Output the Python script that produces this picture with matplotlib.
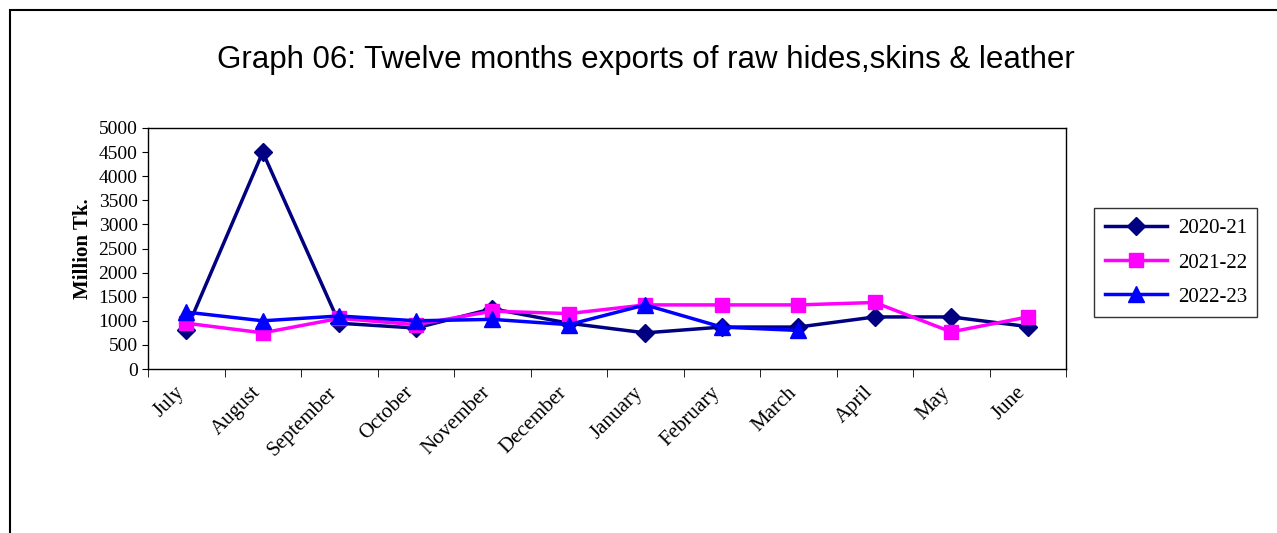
import numpy as np
import matplotlib
matplotlib.use("Agg")
from matplotlib import pyplot as plt
from matplotlib.patches import Rectangle

months = ["July", "August", "September", "October", "November", "December",
          "January", "February", "March", "April", "May", "June"]
fy2021 = [800, 4500, 950, 850, 1250, 950, 750, 870, 870, 1080, 1080, 880]
fy2122 = [950, 750, 1050, 920, 1200, 1150, 1330, 1330, 1330, 1380, 770, 1080]
fy2223 = [1180, 1000, 1100, 1000, 1030, 920, 1330, 870, 800]

plt.rcParams['font.family'] = ['Liberation Serif', 'DejaVu Serif']

fig = plt.figure(figsize=(12.77, 5.33), dpi=100)
fig.patches.append(Rectangle((10 / 1277, -0.01), 1.1, (523 + 0.01 * 533) / 533,
                             transform=fig.transFigure, fill=False,
                             edgecolor="black", linewidth=1.5))
fig.text(646 / 1277, 1 - 60 / 533,
         "Graph 06: Twelve months exports of raw hides,skins & leather",
         ha="center", va="center", fontsize=22.5, family="Liberation Sans")

ax = fig.add_axes([148 / 1277, 1 - 369 / 533, 918 / 1277, 241 / 533])
x = np.arange(len(months))
ax.plot(x, fy2021, color="#000080", marker="D", markersize=9, linewidth=2.5, label="2020-21")
ax.plot(x, fy2122, color="#FF00FF", marker="s", markersize=10, linewidth=2.5, label="2021-22")
ax.plot(x[:len(fy2223)], fy2223, color="#0000FF", marker="^", markersize=11, linewidth=2.5,
        label="2022-23")

ax.set_xlim(-0.5, 11.5)
ax.set_ylim(0, 5000)
ax.set_yticks(range(0, 5001, 500))
ax.tick_params(axis="y", labelsize=14, length=4)
ax.set_xticks(x - 0.15)
ax.set_xticklabels(months, rotation=45, ha="right", rotation_mode="anchor", fontsize=15)
ax.tick_params(axis="x", length=0, pad=10)
ax.set_xticks(np.arange(-0.5, 12, 1), minor=True)
ax.tick_params(axis="x", which="minor", length=6)
ax.set_ylabel("Million Tk.", fontsize=15, fontweight="bold")
for s in ax.spines.values():
    s.set_linewidth(1)

fig.legend(loc="upper left", bbox_to_anchor=(1084 / 1277, 1 - 198 / 533),
           fontsize=15, frameon=True, fancybox=False, edgecolor="black",
           handlelength=3, labelspacing=0.7, borderpad=0.5, handletextpad=0.5)

fig.savefig("out.png", dpi=100)
